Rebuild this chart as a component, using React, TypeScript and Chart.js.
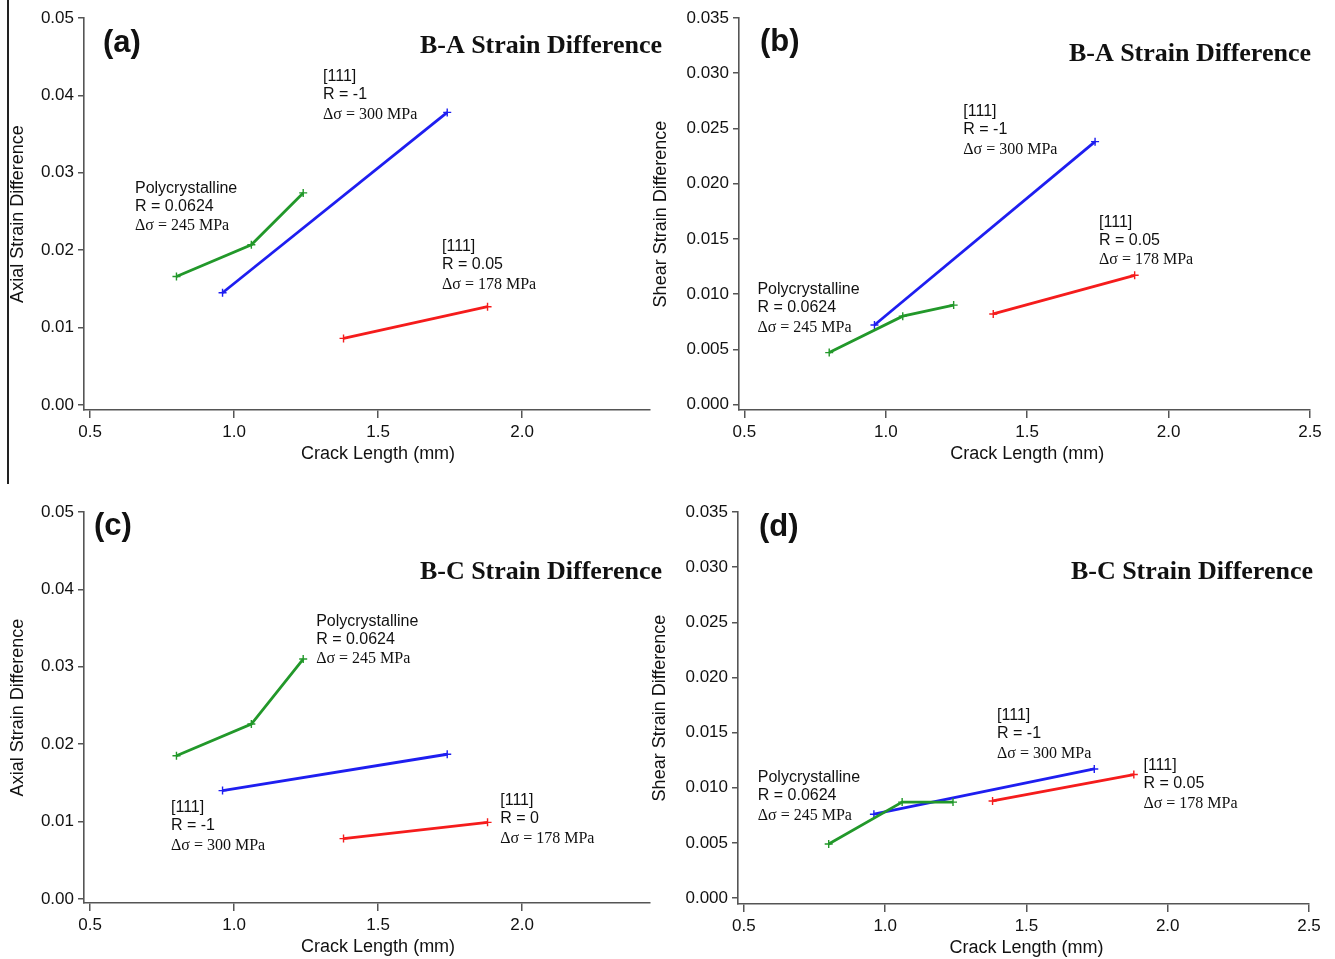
import React, { useEffect, useRef } from "react";
import { Chart, registerables } from "chart.js";

Chart.register(...registerables);

// Crack lengths (mm) shared by all four panels
const crackPoly = [0.8, 1.06, 1.24];
const crackR1 = [0.96, 1.74];
const crackRhi = [1.38, 1.88];

// (a) B-A axial strain difference
const axialBAPoly = [0.0166, 0.0207, 0.0274];
const axialBAR1 = [0.0145, 0.0378];
const axialBAR005 = [0.0086, 0.0127];

// (b) B-A shear strain difference
const shearBAPoly = [0.0047, 0.008, 0.009];
const shearBAR1 = [0.0072, 0.0238];
const shearBAR005 = [0.0082, 0.0117];

// (c) B-C axial strain difference
const axialBCPoly = [0.0185, 0.0226, 0.031];
const axialBCR1 = [0.014, 0.0187];
const axialBCR0 = [0.0078, 0.0099];

// (d) B-C shear strain difference
const shearBCPoly = [0.0049, 0.0087, 0.0087];
const shearBCR1 = [0.0076, 0.0117];
const shearBCR005 = [0.0088, 0.0112];

// Tick values
const axialTicks = [0, 0.01, 0.02, 0.03, 0.04, 0.05];
const shearTicks = [0, 0.005, 0.01, 0.015, 0.02, 0.025, 0.03, 0.035];
const crackTicksShort = [0.5, 1.0, 1.5, 2.0];
const crackTicksLong = [0.5, 1.0, 1.5, 2.0, 2.5];

const GREEN = "#22982a";
const BLUE = "#1e1ef0";
const RED = "#f51c1c";
const AXIS = "#555555";
const TEXT = "#111111";
const SANS = '"Liberation Sans", Arial, sans-serif';
const SERIF = '"Liberation Serif", "Times New Roman", serif';

const W = 1335;
const H = 959;

type Series = { x: number[]; y: number[]; color: string };
type Note = { x: number; y: number; lines: string[] };
type PanelCfg = {
  tag: string;
  tagOffset: [number, number];
  heading: string;
  headingOffset: [number, number];
  yTitle: string;
  yTicks: number[];
  yDigits: number;
  yMin: number;
  yMax: number;
  yWidth: number;
  xTicks: number[];
  xMin: number;
  xMax: number;
  padding: { left: number; top: number; right: number; bottom: number };
  series: Series[];
  notes: Note[];
};

const panels: PanelCfg[] = [
  {
    tag: "(a)",
    tagOffset: [19, 25],
    heading: "B-A Strain Difference",
    headingOffset: [12, 28],
    yTitle: "Axial Strain Difference",
    yTicks: axialTicks,
    yDigits: 2,
    yMin: -0.00065,
    yMax: 0.05,
    yWidth: 78,
    xTicks: crackTicksShort,
    xMin: 0.479,
    xMax: 2.444,
    padding: { left: 6, top: 18, right: W - 650, bottom: H - 410 - 54 },
    series: [
      { x: crackPoly, y: axialBAPoly, color: GREEN },
      { x: crackR1, y: axialBAR1, color: BLUE },
      { x: crackRhi, y: axialBAR005, color: RED },
    ],
    notes: [
      { x: 1.309, y: 0.0424, lines: ["[111]", "R = -1", "Δσ = 300 MPa"] },
      { x: 0.656, y: 0.028, lines: ["Polycrystalline", "R = 0.0624", "Δσ = 245 MPa"] },
      { x: 1.722, y: 0.0204, lines: ["[111]", "R = 0.05", "Δσ = 178 MPa"] },
    ],
  },
  {
    tag: "(b)",
    tagOffset: [21, 24],
    heading: "B-A Strain Difference",
    headingOffset: [1, 36],
    yTitle: "Shear Strain Difference",
    yTicks: shearTicks,
    yDigits: 3,
    yMin: -0.0005,
    yMax: 0.035,
    yWidth: 90,
    xTicks: crackTicksLong,
    xMin: 0.481,
    xMax: 2.5,
    padding: { left: 649, top: 18, right: W - 1310, bottom: H - 410 - 54 },
    series: [
      { x: crackPoly, y: shearBAPoly, color: GREEN },
      { x: crackR1, y: shearBAR1, color: BLUE },
      { x: crackRhi, y: shearBAR005, color: RED },
    ],
    notes: [
      { x: 1.274, y: 0.0265, lines: ["[111]", "R = -1", "Δσ = 300 MPa"] },
      { x: 1.754, y: 0.0165, lines: ["[111]", "R = 0.05", "Δσ = 178 MPa"] },
      { x: 0.546, y: 0.0104, lines: ["Polycrystalline", "R = 0.0624", "Δσ = 245 MPa"] },
    ],
  },
  {
    tag: "(c)",
    tagOffset: [10, 14],
    heading: "B-C Strain Difference",
    headingOffset: [12, 60],
    yTitle: "Axial Strain Difference",
    yTicks: axialTicks,
    yDigits: 2,
    yMin: -0.00052,
    yMax: 0.05,
    yWidth: 78,
    xTicks: crackTicksShort,
    xMin: 0.479,
    xMax: 2.444,
    padding: { left: 6, top: 512, right: W - 650, bottom: H - 903 - 54 },
    series: [
      { x: crackPoly, y: axialBCPoly, color: GREEN },
      { x: crackR1, y: axialBCR1, color: BLUE },
      { x: crackRhi, y: axialBCR0, color: RED },
    ],
    notes: [
      { x: 1.285, y: 0.0359, lines: ["Polycrystalline", "R = 0.0624", "Δσ = 245 MPa"] },
      { x: 0.781, y: 0.0118, lines: ["[111]", "R = -1", "Δσ = 300 MPa"] },
      { x: 1.924, y: 0.0127, lines: ["[111]", "R = 0", "Δσ = 178 MPa"] },
    ],
  },
  {
    tag: "(d)",
    tagOffset: [21, 15],
    heading: "B-C Strain Difference",
    headingOffset: [4, 60],
    yTitle: "Shear Strain Difference",
    yTicks: shearTicks,
    yDigits: 3,
    yMin: -0.00054,
    yMax: 0.035,
    yWidth: 90,
    xTicks: crackTicksLong,
    xMin: 0.479,
    xMax: 2.5,
    padding: { left: 648, top: 512, right: W - 1309, bottom: H - 904 - 54 },
    series: [
      { x: crackPoly, y: shearBCPoly, color: GREEN },
      { x: crackR1, y: shearBCR1, color: BLUE },
      { x: crackRhi, y: shearBCR005, color: RED },
    ],
    notes: [
      { x: 1.396, y: 0.0165, lines: ["[111]", "R = -1", "Δσ = 300 MPa"] },
      { x: 1.914, y: 0.012, lines: ["[111]", "R = 0.05", "Δσ = 178 MPa"] },
      { x: 0.549, y: 0.0109, lines: ["Polycrystalline", "R = 0.0624", "Δσ = 245 MPa"] },
    ],
  },
];

// Draws the panel tag, heading, series notes and the x-axis title
const panelTextPlugin = {
  id: "panelText",
  afterDatasetsDraw(chart: any, _args: any, opts: any) {
    const { ctx, chartArea, scales } = chart;
    const cfg: PanelCfg = opts.cfg;
    if (!cfg) return;
    ctx.save();
    ctx.fillStyle = TEXT;
    ctx.textBaseline = "middle";

    ctx.font = `bold 31px ${SANS}`;
    ctx.textAlign = "left";
    ctx.fillText(cfg.tag, chartArea.left + cfg.tagOffset[0], chartArea.top + cfg.tagOffset[1]);

    ctx.font = `bold 26px ${SERIF}`;
    ctx.textAlign = "right";
    ctx.fillText(cfg.heading, chartArea.right + cfg.headingOffset[0], chartArea.top + cfg.headingOffset[1]);

    ctx.textAlign = "left";
    const lineOffsets = [0, 18, 38];
    for (const n of cfg.notes) {
      const px = scales.x.getPixelForValue(n.x);
      const py = scales.y.getPixelForValue(n.y);
      n.lines.forEach((t, i) => {
        ctx.font = i === 2 ? `16px ${SERIF}` : `16px ${SANS}`;
        ctx.fillText(t, px, py + lineOffsets[i]);
      });
    }

    ctx.font = `18px ${SANS}`;
    ctx.textAlign = "center";
    ctx.fillText("Crack Length (mm)", scales.x.getPixelForValue(1.5), chartArea.bottom + 44);
    ctx.restore();
  },
};

function Panel({ cfg }: { cfg: PanelCfg }) {
  const ref = useRef<HTMLCanvasElement | null>(null);
  useEffect(() => {
    if (!ref.current) return;
    const chart = new Chart(ref.current, {
      type: "line",
      data: {
        datasets: cfg.series.map((s) => ({
          data: s.x.map((x, i) => ({ x, y: s.y[i] })),
          borderColor: s.color,
          backgroundColor: s.color,
          borderWidth: 2.8,
          tension: 0,
          fill: false,
          pointStyle: "cross",
          pointRadius: 4,
          pointBorderWidth: 1.4,
          pointBorderColor: s.color,
        })),
      },
      options: {
        responsive: false,
        animation: false,
        devicePixelRatio: 1,
        events: [],
        layout: { padding: cfg.padding },
        plugins: {
          legend: { display: false },
          tooltip: { enabled: false },
          panelText: { cfg },
        } as any,
        scales: {
          x: {
            type: "linear",
            min: cfg.xMin,
            max: cfg.xMax,
            afterBuildTicks: (s: any) => {
              s.ticks = cfg.xTicks.map((v) => ({ value: v }));
            },
            afterFit: (s: any) => {
              s.height = 54;
            },
            grid: { drawOnChartArea: false, color: AXIS, lineWidth: 1.5, tickLength: 8 },
            border: { color: AXIS, width: 1.6 },
            ticks: {
              color: TEXT,
              font: { family: SANS, size: 17 },
              padding: 4,
              maxRotation: 0,
              autoSkip: false,
              callback: (v: any) => Number(v).toFixed(1),
            },
          },
          y: {
            type: "linear",
            min: cfg.yMin,
            max: cfg.yMax,
            afterBuildTicks: (s: any) => {
              s.ticks = cfg.yTicks.map((v) => ({ value: v }));
            },
            afterFit: (s: any) => {
              s.width = cfg.yWidth;
            },
            grid: { drawOnChartArea: false, color: AXIS, lineWidth: 1.5, tickLength: 6 },
            border: { color: AXIS, width: 1.6 },
            ticks: {
              color: TEXT,
              font: { family: SANS, size: 17 },
              padding: 4,
              autoSkip: false,
              callback: (v: any) => Number(v).toFixed(cfg.yDigits),
            },
            title: {
              display: true,
              text: cfg.yTitle,
              color: TEXT,
              font: { family: SANS, size: 18 },
              padding: { top: 1, bottom: 0 },
            },
          },
        },
      },
      plugins: [panelTextPlugin],
    } as any);
    return () => chart.destroy();
  }, [cfg]);
  return (
    <canvas
      ref={ref}
      width={W}
      height={H}
      style={{ position: "absolute", left: 0, top: 0, width: W, height: H }}
    />
  );
}

export default function App() {
  return (
    <div style={{ position: "absolute", left: 0, top: 0, width: W, height: H, background: "#ffffff", overflow: "hidden" }}>
      <div style={{ position: "absolute", left: 7, top: 0, width: 1.5, height: 484, background: "#222" }} />
      {panels.map((p) => (
        <Panel key={p.tag} cfg={p} />
      ))}
    </div>
  );
}
